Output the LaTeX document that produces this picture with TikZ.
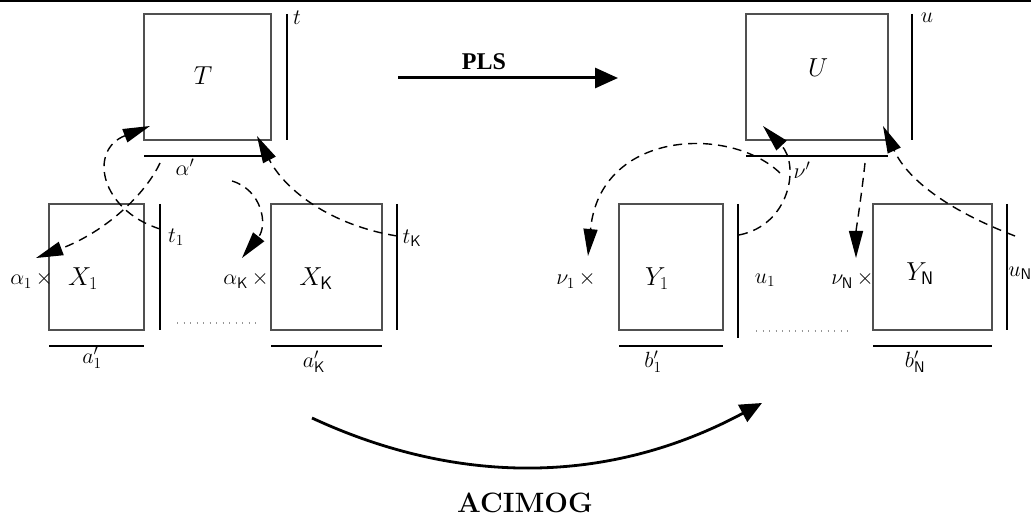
\RequirePackage{fix-cm}
\documentclass[tikz,border=0pt]{standalone}
\usepackage{fontspec}
\newfontfamily\plsfont{Liberation Serif}
\usetikzlibrary{arrows.meta}
\definecolor{boxgray}{RGB}{80,80,80}
\definecolor{dotgray}{RGB}{150,150,150}
\begin{document}
\begin{tikzpicture}[x=1pt,y=-1pt,
  mbox/.style={draw=boxgray, line width=1.1pt, inner sep=0pt, minimum height=126pt},
  bar/.style={line width=1.9pt},
  dcurve/.style={dash pattern=on 9pt off 6pt, line width=1.4pt, -{Triangle[length=27pt,width=14pt]}},
  big/.style={font=\fontsize{26}{31}\selectfont, inner sep=0pt},
  sm/.style={font=\fontsize{22}{26}\selectfont, inner sep=0pt},
  dotln/.style={line width=1.1pt, dash pattern=on 1.1pt off 5.4pt, dotgray}
]
\useasboundingbox (0,0) rectangle (1031,518);
\fill (0,0) rectangle (1031,2.5);

% boxes
\node[mbox, minimum width=127pt] (T)  at (207.5,77) {};
\node[mbox, minimum width=95pt]  (X1) at (96.5,267) {};
\node[mbox, minimum width=111pt] (XK) at (326.5,267) {};
\node[mbox, minimum width=142pt] (U)  at (817,77) {};
\node[mbox, minimum width=104pt] (Y1) at (671,267) {};
\node[mbox, minimum width=119pt] (YN) at (932.5,267) {};

% bars
\draw[bar] (287,14) -- (287,140);
\draw[bar] (144,156) -- (262,156);
\draw[bar] (160,204) -- (160,330);
\draw[bar] (397,204) -- (397,330);
\draw[bar] (49,346) -- (144,346);
\draw[bar] (271,346) -- (382,346);
\draw[bar] (912,14) -- (912,140);
\draw[bar] (746,156) -- (888,156);
\draw[bar] (738,204) -- (738,338);
\draw[bar] (1007,204) -- (1007,330);
\draw[bar] (619,346) -- (723,346);
\draw[bar] (873,346) -- (992,346);

% dotted
\draw[dotln] (177,323) -- (256,323);
\draw[dotln] (756,331) -- (853,331);

% labels
\node[big] (lT) at (203,76) {$T$};
\node[sm] (lt) at (297,18) {$t$};
\node[sm] (lal) at (185,167) {$\alpha'$};
\node[big] (lX1) at (83,279) {$X_1$};
\node[sm, anchor=east] (lal1) at (53,280) {$\alpha_1\,\times$};
\node[sm] (lt1) at (176,237) {$t_1$};
\node[sm] (la1) at (92,358) {$a'_1$};
\node[big] (lXK) at (316,279) {$X_{\mathsf{K}}$};
\node[sm, anchor=east] (lalK) at (269,280) {$\alpha_{\mathsf{K}}\,\times$};
\node[sm] (ltK) at (412,238) {$t_{\mathsf{K}}$};
\node[sm] (laK) at (314,362) {$a'_{\mathsf{K}}$};

\node[big] (lU) at (818,68) {$U$};
\node[sm] (lu) at (927,18) {$u$};
\node[sm] (lnu) at (802,170) {$\nu'$};
\node[big] (lY1) at (657,279) {$Y_1$};
\node[sm, anchor=east] (lnu1) at (596,280) {$\nu_1\,\times$};
\node[sm] (lu1) at (765,280) {$u_1$};
\node[sm] (lb1) at (653,362) {$b'_1$};
\node[big] (lYN) at (920,274) {$Y_{\mathsf{N}}$};
\node[sm, anchor=east] (lnuN) at (874,280) {$\nu_{\mathsf{N}}\,\times$};
\node[sm] (luN) at (1020,273) {$u_{\mathsf{N}}$};
\node[sm] (lbN) at (915,362) {$b'_{\mathsf{N}}$};

\node[font=\plsfont\bfseries\fontsize{24}{28}\selectfont, inner sep=0pt] (lPLS) at (484,62) {PLS};
\node[font=\bfseries\fontsize{28}{33}\selectfont, inner sep=0pt] (lAC) at (525,503) {ACIMOG};

% connector end points
\coordinate (P1) at (398,78);
\coordinate (P2) at (618,78);
\coordinate (A1) at (312,418);
\coordinate (A2) at (762,403);
\coordinate (L1s) at (160,163); \coordinate (L1e) at (36,258);
\coordinate (L2s) at (160,229); \coordinate (L2e) at (150,126);
\coordinate (L3s) at (232,181); \coordinate (L3e) at (242,258);
\coordinate (L4s) at (397,236); \coordinate (L4e) at (257,136);
\coordinate (Ras) at (780,173); \coordinate (Rae) at (588,256);
\coordinate (Rbs) at (739,235); \coordinate (Rbe) at (763,126);
\coordinate (Rcs) at (865,163); \coordinate (Rce) at (856,258);
\coordinate (Rds) at (1015,236); \coordinate (Rde) at (883,126);

% main arrows
\draw[line width=3pt, -{Triangle[length=23pt,width=20pt]}] (P1) -- (P2);
\draw[line width=2.8pt, -{Triangle[length=22pt,width=19pt]}] (A1) .. controls (463,488) and (613,483) .. (A2);

% dashed curves
\draw[dcurve] (L1s) .. controls (145,195) and (105,232) .. (L1e);
\draw[dcurve] (L2s) .. controls (100,210) and (88,150) .. (L2e);
\draw[dcurve] (L3s) .. controls (262,190) and (268,225) .. (L3e);
\draw[dcurve] (L4s) .. controls (330,225) and (285,190) .. (L4e);
\draw[dcurve] (Ras) .. controls (730,125) and (600,130) .. (Rae);
\draw[dcurve] (Rbs) .. controls (790,225) and (800,165) .. (Rbe);
\draw[dcurve] (Rcs) .. controls (861,200) and (856,230) .. (Rce);
\draw[dcurve] (Rds) .. controls (960,215) and (910,185) .. (Rde);
\end{tikzpicture}
\end{document}
